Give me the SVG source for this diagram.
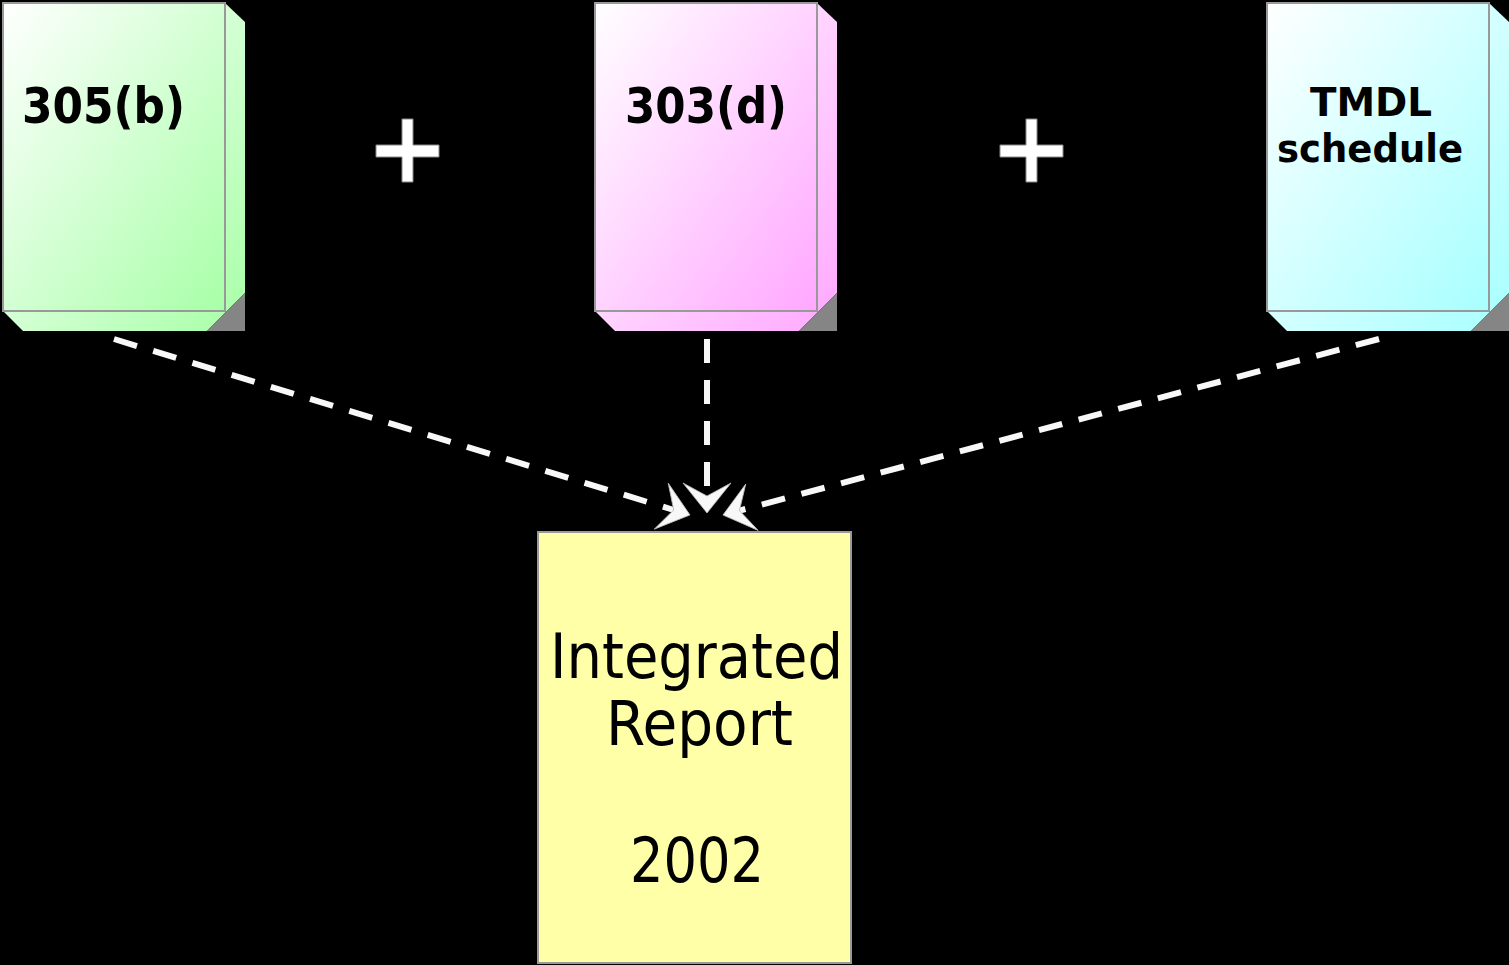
<svg xmlns="http://www.w3.org/2000/svg" width="1509" height="965" viewBox="0 0 1509 965">
<defs>
<linearGradient id="gGreen" x1="0" y1="0" x2="1" y2="1"><stop offset="0" stop-color="#ffffff"/><stop offset="1" stop-color="#a8ffa8"/></linearGradient>
<linearGradient id="gPink" x1="0" y1="0" x2="1" y2="1"><stop offset="0" stop-color="#ffffff"/><stop offset="1" stop-color="#ffa8ff"/></linearGradient>
<linearGradient id="gCyan" x1="0" y1="0" x2="1" y2="1"><stop offset="0" stop-color="#ffffff"/><stop offset="1" stop-color="#a8ffff"/></linearGradient>
<marker id="stealth" markerUnits="userSpaceOnUse" viewBox="-15 -25 35 50" markerWidth="35" markerHeight="50" refX="0" refY="0" orient="auto" overflow="visible">
<path d="M17,0 L-13,-24 L0,0 L-13,24 Z" fill="#f8f8f8" stroke="#bbbbbb" stroke-width="0.8"/>
</marker>
<style>
.front{stroke:#999999;stroke-width:2}
.shadow{fill:#858585}
.lbl{font-family:'DejaVu Sans Condensed','DejaVu Sans',sans-serif;font-stretch:condensed;font-weight:bold;fill:#000}
.big{font-family:'DejaVu Sans Condensed','DejaVu Sans',sans-serif;font-stretch:condensed;font-size:62px;fill:#000}
.plus{fill:#ffffff;stroke:#888888;stroke-width:1}
.conn{fill:none;stroke:#f8f8f8;stroke-width:6;stroke-dasharray:24 17;marker-end:url(#stealth)}
</style>
</defs>
<rect x="0" y="0" width="1509" height="965" fill="#000000"/>

<g id="node-305b">
<polygon points="225,3 245,22 245,293 207,331 23,331 3,311" fill="url(#gGreen)"/>
<polygon class="shadow" points="245,293 245,331 207,331"/>
<rect class="front" x="3" y="3" width="222" height="308" fill="url(#gGreen)"/>
<text class="lbl" x="22" y="123" font-size="49" textLength="163" lengthAdjust="spacingAndGlyphs">305(b)</text>
</g>

<g id="node-303d">
<polygon points="817,3 837,22 837,293 799,331 615,331 595,311" fill="url(#gPink)"/>
<polygon class="shadow" points="837,293 837,331 799,331"/>
<rect class="front" x="595" y="3" width="222" height="308" fill="url(#gPink)"/>
<text class="lbl" x="625" y="123" font-size="49" textLength="162" lengthAdjust="spacingAndGlyphs">303(d)</text>
</g>

<g id="node-tmdl">
<polygon points="1489,3 1509,22 1509,293 1471,331 1287,331 1267,311" fill="url(#gCyan)"/>
<polygon class="shadow" points="1509,293 1509,331 1471,331"/>
<rect class="front" x="1267" y="3" width="222" height="308" fill="url(#gCyan)"/>
<text class="lbl" x="1310" y="116" font-size="39" textLength="122" lengthAdjust="spacingAndGlyphs">TMDL</text>
<text class="lbl" x="1277" y="162" font-size="39" textLength="186" lengthAdjust="spacingAndGlyphs">schedule</text>
</g>

<g id="node-integrated">
<rect class="front" x="538" y="532" width="313" height="431" fill="#ffffa8"/>
<text class="big" x="550" y="678" textLength="293" lengthAdjust="spacingAndGlyphs">Integrated</text>
<text class="big" x="606" y="745" textLength="187" lengthAdjust="spacingAndGlyphs">Report</text>
<text class="big" x="630" y="882" textLength="134" lengthAdjust="spacingAndGlyphs">2002</text>
</g>

<g id="plus-1">
<path class="plus" d="M402,119 H413 V145 H439 V157 H413 V182 H402 V157 H376 V145 H402 Z"/>
</g>
<g id="plus-2">
<path class="plus" d="M1026,119 H1037 V145 H1063 V157 H1037 V182 H1026 V157 H1000 V145 H1026 Z"/>
</g>

<g id="connectors">
<line class="conn" x1="114" y1="339" x2="673.7" y2="510"/>
<line class="conn" x1="707" y1="339" x2="707" y2="496"/>
<line class="conn" x1="1379" y1="339" x2="739.4" y2="510.6"/>
</g>
</svg>
